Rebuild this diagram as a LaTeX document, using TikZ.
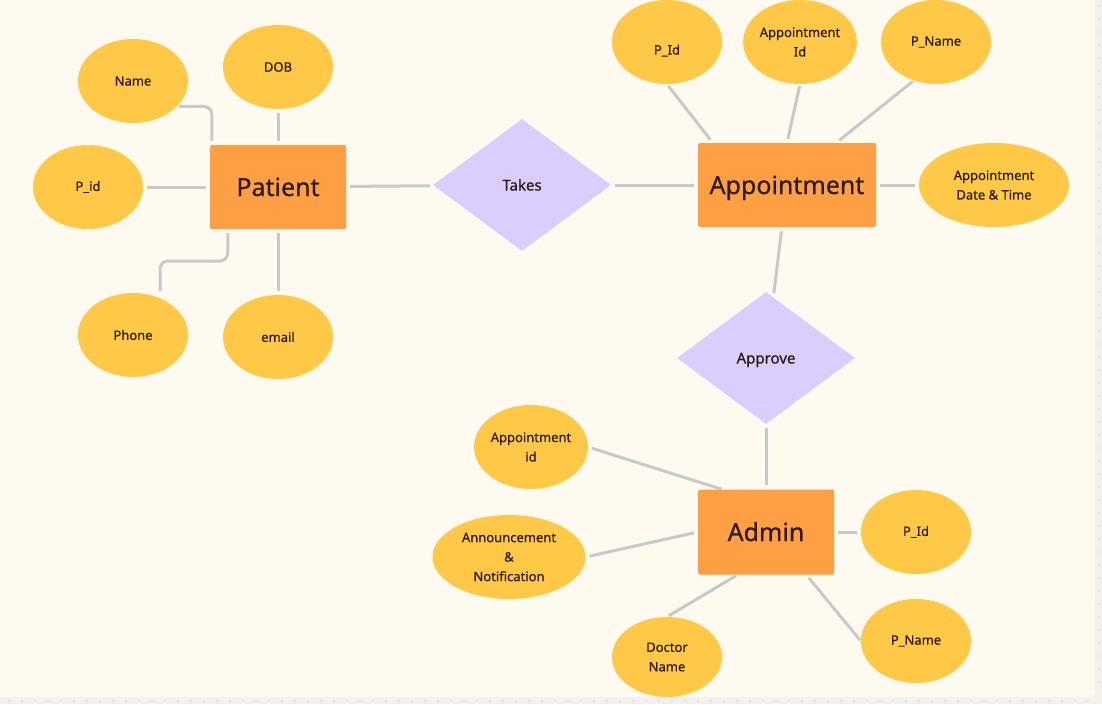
\documentclass[tikz,border=0pt]{standalone}
\usepackage{fontspec}
\setmainfont{Noto Sans}
\newfontfamily\medfont[FakeBold=0.5]{Noto Sans}
\usetikzlibrary{shapes.geometric}
\definecolor{canvas}{HTML}{FEFAEF}
\definecolor{outside}{HTML}{F2F1EE}
\definecolor{dotgrey}{HTML}{B5B5B5}
\definecolor{attrfill}{HTML}{FFC947}
\definecolor{entfill}{HTML}{FF9F43}
\definecolor{relfill}{HTML}{DACEFF}
\definecolor{linkgrey}{HTML}{C9C9C9}
\definecolor{ink}{HTML}{2B1B0C}
\begin{document}
\begin{tikzpicture}[x=1pt,y=-1pt]
    \tikzset{
      attr/.style={ellipse,fill=attrfill,inner sep=0,minimum width=110,minimum height=84,
        text=ink,align=center,font=\medfont\fontsize{13}{19.5}\selectfont},
      ent/.style={rectangle,rounded corners=1.5,fill=entfill,inner sep=0,minimum width=136,
        minimum height=84,text height=18,text depth=0,text=ink,font=\medfont\fontsize{25}{30}\selectfont},
      rel/.style={diamond,fill=relfill,inner sep=0,minimum width=178,minimum height=132,
        text height=11,text depth=0,text=ink,font=\medfont\fontsize{15}{18}\selectfont},
      conn/.style={draw=linkgrey,line width=3,shorten <=4,shorten >=4},
    }
        \useasboundingbox (0,0) rectangle (1102,704);
        %CANVAS
        \fill[outside] (0,0) rectangle (1102,704);
        \fill[canvas] (0,0) rectangle (1095,680);
        \fill[canvas,rounded corners=4] (-6,600) rectangle (1095,697);
        \foreach \x in {9,22,...,1100} \fill[dotgrey] (\x,701) circle (0.7);
        \foreach \y in {6,19,...,690} \fill[dotgrey] (1099,\y) circle (0.7);

        %ENTITIES
        \node[ent] (patient) at (278,187) {Patient};
        \node[ent,minimum width=178] (appointment) at (787,185) {Appointment};
        \node[ent,minimum height=85] (admin) at (766,532) {Admin};

        %RELATIONS
        \node[rel] (takes) at (522,185) {Takes};
        \node[rel] (approve) at (766,358) {Approve};

        %PATIENT ATTRIBUTES
        \node[attr] (name) at (133,81) {Name};
        \node[attr] (dob) at (278,67) {DOB};
        \node[attr] (pid) at (88,187) {P\_id};
        \node[attr] (phone) at (133,335) {Phone};
        \node[attr] (email) at (278,337) {email};

        %APPOINTMENT ATTRIBUTES
        \node[attr] (appPId) at (667,42) {\raisebox{-12.5pt}[0pt][0pt]{P\_Id}};
        \node[attr] (appId) at (800,42) {Appointment\\Id};
        \node[attr] (appPName) at (936,42) {P\_Name};
        \node[attr,minimum width=150] (appDate) at (994,185) {Appointment\\Date \& Time};

        %ADMIN ATTRIBUTES
        \node[attr] (admAppId) at (531,447) {Appointment\\id};
        \node[attr,minimum width=153] (admNotice) at (509,557) {Announcement\\\&\\Notification};
        \node[attr] (admPId) at (916,532) {P\_Id};
        \node[attr,minimum height=80] (admDoctor) at (667,657) {Doctor\\Name};
        \node[attr] (admPName) at (916,641) {P\_Name};

        \coordinate (phoneBend) at (160,261);

        %LINKS PATIENT
        \draw[conn,rounded corners=8,shorten <=2] (name.-30) -| ([xshift=2]patient.north west);
        \draw[conn] (dob) -- (patient);
        \draw[conn] (pid) -- (patient);
        \draw[conn] (email) -- (patient);
        \draw[conn,rounded corners=8,shorten >=2] ([xshift=18]patient.south west) |- (phoneBend) -- (phone.north -| phoneBend);
        \draw[conn] (patient) -- (takes);
        \draw[conn] (takes) -- (appointment);

        %LINKS APPOINTMENT
        \draw[conn,shorten <=2] (appPId.south) -- ([xshift=15]appointment.north west);
        \draw[conn,shorten <=2] (appId.south) -- (appointment.north);
        \draw[conn,shorten <=1] (appPName.-120) -- ([xshift=-40]appointment.north east);
        \draw[conn] (appointment) -- (appDate);
        \draw[conn] (appointment) -- (approve);
        \draw[conn] (approve) -- (admin);

        %LINKS ADMIN
        \draw[conn,shorten >=0] (admAppId.east) -- ([xshift=24]admin.north west);
        \draw[conn] (admNotice.east) -- (admin.west);
        \draw[conn] (admin) -- (admPId);
        \draw[conn,shorten <=2,shorten >=2] (admDoctor.north) -- ([xshift=40]admin.south west);
        \draw[conn,shorten >=1] ([xshift=-28]admin.south east) -- (admPName.west);
    \end{tikzpicture}
\end{document}
